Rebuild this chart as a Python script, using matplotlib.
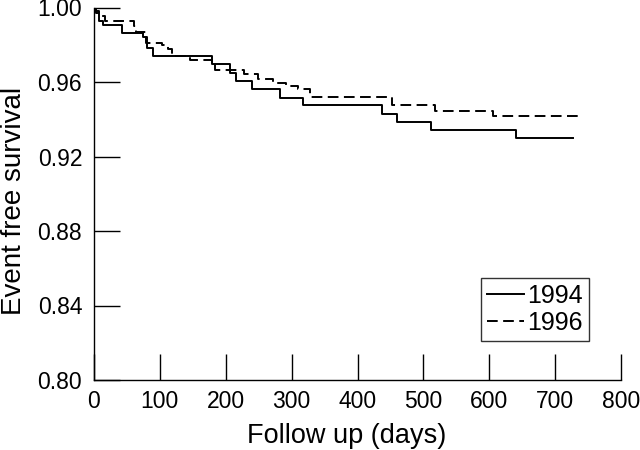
import matplotlib
matplotlib.use("Agg")
import matplotlib.pyplot as plt

plt.rcParams['font.family'] = ['Liberation Sans', 'DejaVu Sans']

# 1994 (solid) Kaplan-Meier steps
t1994 = [0, 2, 7, 14, 42, 75, 80, 90, 179, 206, 216, 240, 282, 318, 437, 460, 512, 640, 727]
s1994 = [1.000, 0.998, 0.993, 0.9905, 0.9864, 0.9842, 0.978, 0.9737, 0.9695, 0.965, 0.9605,
         0.956, 0.9516, 0.9475, 0.943, 0.9386, 0.934, 0.9297, 0.9297]

# 1996 (dashed) Kaplan-Meier steps
t1996 = [0, 3, 7, 17, 60, 64, 79, 103, 113, 118, 146, 179, 184, 227, 249, 272, 292, 310, 328,
         453, 517, 606, 742]
s1996 = [1.000, 0.997, 0.9955, 0.9928, 0.990, 0.9869, 0.981, 0.980, 0.9775, 0.9738, 0.9717,
         0.970, 0.9667, 0.9643, 0.9618, 0.9597, 0.9577, 0.956, 0.9518, 0.9475, 0.9444, 0.942, 0.942]

xticks = [0, 100, 200, 300, 400, 500, 600, 700, 800]
yticks = [0.80, 0.84, 0.88, 0.92, 0.96, 1.00]
ytick_labels = ["0.80", "0.84", "0.88", "0.92", "0.96", "1.00"]

W, H = 640, 450
fig = plt.figure(figsize=(6.4, 4.5), dpi=100)
ax = fig.add_axes([94/W, 1-380/H, 527/W, 372.5/H])

ax.step(t1994, s1994, where='post', color='black', lw=1.4, label='1994')
ax.step(t1996, s1996, where='post', color='black', lw=1.4, linestyle=(0, (5.5, 2.8)),
        label='1996')

ax.set_xlim(0, 800)
ax.set_ylim(0.80, 1.00)
ax.set_xticks(xticks)
ax.set_yticks(yticks)
ax.set_yticklabels(ytick_labels)
ax.tick_params(direction='in', length=19, width=1, labelsize=16.5, color='black')
ax.tick_params(axis='x', pad=7.5)
ax.tick_params(axis='y', pad=8.5)
for s in ['top', 'right']:
    ax.spines[s].set_visible(False)
for s in ['left', 'bottom']:
    ax.spines[s].set_linewidth(1)

fig.text(347/W, 1-443/H, 'Follow up (days)', fontsize=19.5, ha='center', va='baseline')
fig.text(1/W, 1-200.5/H, 'Event free survival', fontsize=20, rotation=90,
         ha='left', va='center')

leg = ax.legend(loc='lower right', bbox_to_anchor=(0.939, 0.105), fontsize=18,
                frameon=True, fancybox=False, edgecolor='black', handlelength=1.5,
                handletextpad=0.1, borderpad=0.25, labelspacing=0.1, borderaxespad=0)
leg.get_frame().set_linewidth(1)

fig.savefig('out.png', dpi=100, facecolor='white')
